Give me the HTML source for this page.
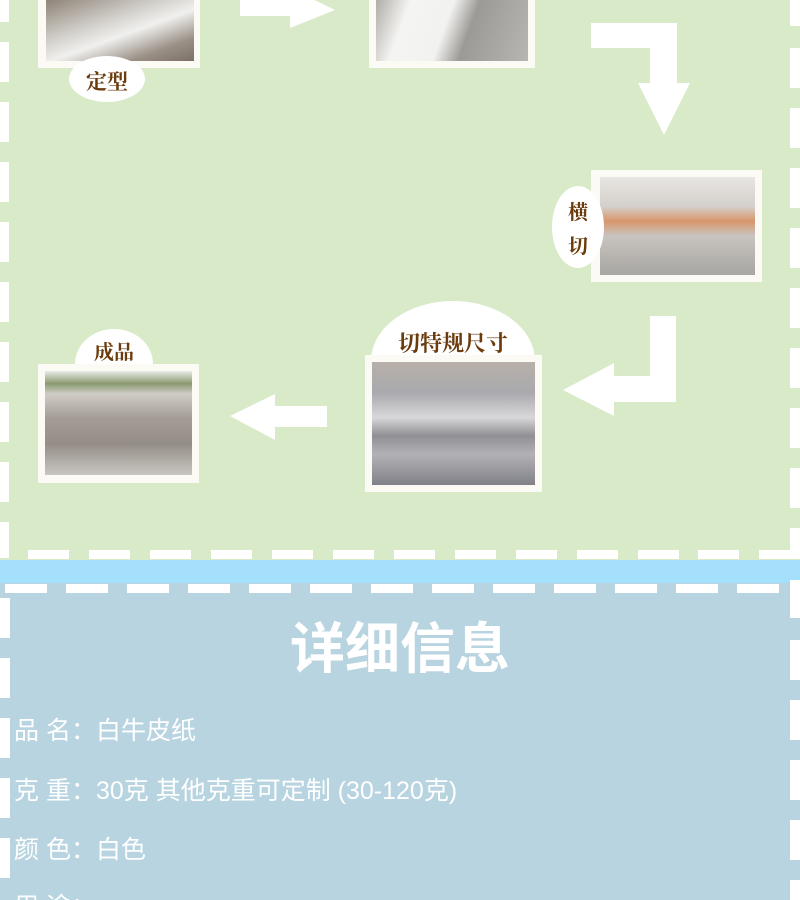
<!DOCTYPE html>
<html style="width:800px;height:900px;overflow:hidden"><head><meta charset="utf-8"><style>
*{margin:0;padding:0;box-sizing:border-box}
body{width:800px;height:900px;overflow:hidden;position:relative;background:#b7d4e0;font-family:"Liberation Sans","Noto Sans CJK SC",sans-serif}
.abs{position:absolute}
.green{left:0;top:0;width:800px;height:560px;background:#d9eac8}
.frame{position:absolute;background:#fbfaf5}
.pic{position:absolute}
.lbl{position:absolute;background:#fff;color:#6a3b0c;font-family:"Noto Serif CJK SC","WenQuanYi Zen Hei",serif;font-weight:bold;text-align:center}
.row{position:absolute;left:14px;color:#fff;font-size:25px;line-height:30px;white-space:nowrap}
</style></head><body>
<div class="abs green"></div>
<svg class="abs" style="left:0;top:0" width="800" height="900">
  <g fill="#fff">
    <rect x="0" y="0" width="9" height="22"/>
    <rect x="0" y="42" width="9" height="40"/>
    <rect x="0" y="102" width="9" height="40"/>
    <rect x="0" y="162" width="9" height="40"/>
    <rect x="0" y="222" width="9" height="40"/>
    <rect x="0" y="282" width="9" height="40"/>
    <rect x="0" y="342" width="9" height="40"/>
    <rect x="0" y="402" width="9" height="40"/>
    <rect x="0" y="462" width="9" height="40"/>
    <rect x="0" y="522" width="9" height="36"/>
    <rect x="790" y="0" width="10" height="26"/>
    <rect x="790" y="48" width="10" height="40"/>
    <rect x="790" y="108" width="10" height="40"/>
    <rect x="790" y="168" width="10" height="40"/>
    <rect x="790" y="228" width="10" height="40"/>
    <rect x="790" y="288" width="10" height="40"/>
    <rect x="790" y="348" width="10" height="40"/>
    <rect x="790" y="408" width="10" height="40"/>
    <rect x="790" y="468" width="10" height="40"/>
    <rect x="790" y="528" width="10" height="30"/>
    <rect x="28" y="550" width="41" height="9"/>
    <rect x="89" y="550" width="41" height="9"/>
    <rect x="150" y="550" width="41" height="9"/>
    <rect x="211" y="550" width="41" height="9"/>
    <rect x="272" y="550" width="41" height="9"/>
    <rect x="333" y="550" width="41" height="9"/>
    <rect x="394" y="550" width="41" height="9"/>
    <rect x="455" y="550" width="41" height="9"/>
    <rect x="516" y="550" width="41" height="9"/>
    <rect x="577" y="550" width="41" height="9"/>
    <rect x="638" y="550" width="41" height="9"/>
    <rect x="698" y="550" width="41" height="9"/>
    <rect x="759" y="550" width="41" height="9"/>
  </g>
  <rect x="0" y="560" width="800" height="23" fill="#a4e0fc"/>
  <g fill="#fff">
    <rect x="5" y="584" width="42" height="9"/>
    <rect x="66" y="584" width="42" height="9"/>
    <rect x="127" y="584" width="42" height="9"/>
    <rect x="188" y="584" width="42" height="9"/>
    <rect x="249" y="584" width="42" height="9"/>
    <rect x="310" y="584" width="42" height="9"/>
    <rect x="371" y="584" width="42" height="9"/>
    <rect x="432" y="584" width="42" height="9"/>
    <rect x="493" y="584" width="42" height="9"/>
    <rect x="554" y="584" width="42" height="9"/>
    <rect x="615" y="584" width="42" height="9"/>
    <rect x="676" y="584" width="42" height="9"/>
    <rect x="737" y="584" width="42" height="9"/>
    <rect x="0" y="598" width="10" height="40"/>
    <rect x="0" y="658" width="10" height="40"/>
    <rect x="0" y="718" width="10" height="40"/>
    <rect x="0" y="778" width="10" height="40"/>
    <rect x="0" y="838" width="10" height="40"/>
    <rect x="790" y="580" width="10" height="38"/>
    <rect x="790" y="640" width="10" height="40"/>
    <rect x="790" y="700" width="10" height="40"/>
    <rect x="790" y="760" width="10" height="40"/>
    <rect x="790" y="820" width="10" height="40"/>
    <rect x="790" y="880" width="10" height="20"/>
  </g>
  <g fill="#fff">
    <polygon points="240,0 290,0 290,-12 335,10 290,28 290,16 240,16"/>
    <polygon points="591,23 677,23 677,83 690,83 664,135 638,83 650,83 650,48 591,48"/>
    <polygon points="650,316 676,316 676,402 614,402 614,416 563,390 614,363 614,376 650,376"/>
    <polygon points="327,406 327,427 275,427 275,440 230,416 275,394 275,406"/>
  </g>
</svg>

<div class="frame" style="left:38px;top:0;width:162px;height:68px"></div>
<div class="pic" style="left:46px;top:0;width:148px;height:61px;background:linear-gradient(160deg,#8e8478 0%,#d8d6d2 40%,#f0f0ee 55%,#9a9086 80%,#7a7066 100%)"></div>
<div class="lbl" style="left:69px;top:56px;width:76px;height:46px;border-radius:50%;font-size:21px;line-height:46px;padding-top:2px">定型</div>
<div class="frame" style="left:369px;top:0;width:166px;height:68px"></div>
<div class="pic" style="left:376px;top:0;width:152px;height:61px;background:linear-gradient(110deg,#b0ada8 0%,#f4f4f2 20%,#f2f2f0 45%,#9c9a96 60%,#b8b6b2 100%)"></div>
<div class="frame" style="left:591px;top:170px;width:171px;height:112px"></div>
<div class="pic" style="left:600px;top:177px;width:155px;height:98px;background:linear-gradient(180deg,#e8e6e2 0%,#d4d0cc 30%,#d8966a 45%,#c8c4c0 60%,#a8a6a2 100%)"></div>
<div class="lbl" style="left:552px;top:186px;width:52px;height:82px;border-radius:50%;font-size:20px;line-height:34px;padding-top:8px">横<br>切</div>
<div class="lbl" style="left:371px;top:301px;width:164px;height:120px;border-radius:50%;font-size:22px;line-height:28px;padding-top:28px">切特规尺寸</div>
<div class="frame" style="left:365px;top:355px;width:177px;height:137px"></div>
<div class="pic" style="left:372px;top:362px;width:163px;height:123px;background:linear-gradient(180deg,#b8b0a8 0%,#a9a9ae 25%,#d8d8da 45%,#909094 60%,#b2b2b6 75%,#808088 100%)"></div>
<div class="lbl" style="left:75px;top:329px;width:78px;height:70px;border-radius:50%;font-size:20px;line-height:28px;padding-top:8px">成品</div>
<div class="frame" style="left:38px;top:364px;width:161px;height:119px"></div>
<div class="pic" style="left:45px;top:371px;width:147px;height:104px;background:linear-gradient(180deg,#e8ece8 0%,#8a9a70 12%,#d0ccc6 22%,#a39d95 45%,#948e86 70%,#c8c6c2 100%)"></div>

<div class="abs" style="left:0;top:616px;width:800px;text-align:center;color:#fff;font-size:55px;font-weight:bold;line-height:66px">详细信息</div>
<div class="row" style="top:716px">品 名：白牛皮纸</div>
<div class="row" style="top:776px">克 重：30克 其他克重可定制 (30-120克)</div>
<div class="row" style="top:835px">颜 色：白色</div>
<div class="row" style="top:892px">用 途：</div>
</body></html>
